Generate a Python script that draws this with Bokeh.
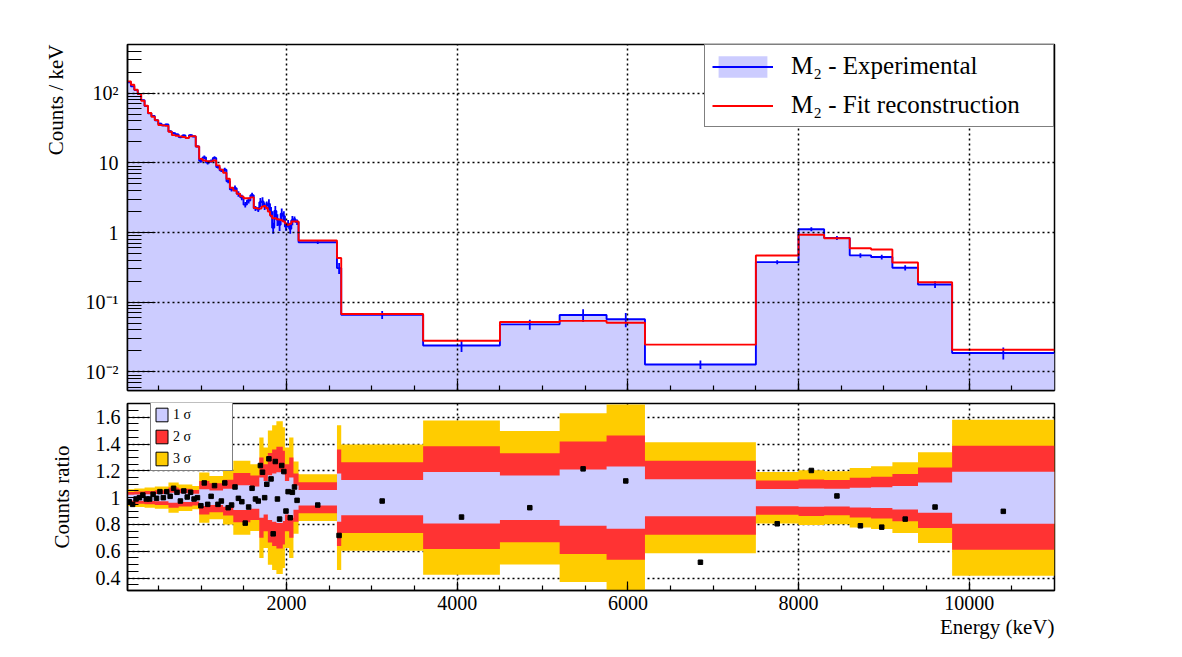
import numpy as np
from bokeh.plotting import figure
from bokeh.layouts import column
from bokeh.models import Range1d, FixedTicker, CustomJSTickFormatter, Legend, LegendItem, Title
from bokeh.embed import file_html
from bokeh.resources import INLINE

# ---------------- data ----------------
bin_edges = [135, 175, 215, 255, 295, 335, 375, 415, 455, 495, 535, 575, 615, 655, 695,
             735, 775, 815, 855, 895, 935, 975, 1015, 1055, 1095, 1135, 1175, 1215, 1255,
             1295, 1335, 1375, 1415, 1455, 1495, 1535, 1575, 1615, 1655,
             1680, 1705, 1730, 1755, 1780, 1805, 1830, 1855, 1880, 1905, 1930, 1955, 1980,
             2005, 2030, 2055, 2080, 2105, 2140,
             2590, 2640, 3600, 4500, 5200, 5750, 6200, 7500, 8000, 8300, 8600, 8850,
             9100, 9400, 9800, 11000]

fit_counts = [148, 132, 112, 97, 78, 66, 52, 46, 41, 35,
              34.5, 34, 28, 25, 24.5, 24, 23.5, 22.7, 24, 24.2,
              17.2, 11.4, 10.8, 10.6, 10.5, 10.8, 9.2, 8.0, 7.2, 5.9,
              4.4, 4.0, 3.6, 3.3, 3.1, 3.1, 3.2, 2.25,
              2.2, 2.2, 2.35, 2.4, 2.25, 2.0, 1.75, 1.6, 1.6, 1.55,
              1.54, 1.5, 1.44, 1.35, 1.29, 1.33, 1.44, 1.44, 1.44,
              0.767, 0.43, 0.0678, 0.028, 0.052, 0.054, 0.0506, 0.0246,
              0.467, 0.927, 0.828, 0.595, 0.57, 0.371, 0.193, 0.0208]

counts_ratio = [0.97, 0.95, 0.99, 1.0, 1.02, 0.99, 0.99, 1.025, 0.995, 1.045,
                1.0, 1.045, 1.01, 1.07, 1.04, 0.975, 1.05, 1.005, 1.04, 0.99,
                1.0, 0.94, 1.11, 0.95, 1.01, 1.09, 0.95, 0.975, 1.11, 0.925,
                0.945, 1.08, 0.995, 0.97, 0.81, 0.93, 1.07, 0.99,
                0.975, 1.24, 1.19, 1.0, 1.1, 1.29, 1.14, 0.73, 1.27, 0.99,
                0.84, 1.24, 1.195, 0.9, 1.045, 0.85, 1.04, 1.08, 0.98,
                0.945, 0.718, 0.975, 0.855, 0.925, 1.215, 1.125, 0.518,
                0.805, 1.203, 1.013, 0.79, 0.78, 0.84, 0.93, 0.898]

rel_sigma = [0.021, 0.021, 0.023, 0.023, 0.023, 0.025, 0.025, 0.025, 0.0275, 0.0275,
             0.0275, 0.0275, 0.0375, 0.0375, 0.0375, 0.033, 0.033, 0.033, 0.033, 0.029,
             0.029, 0.0625, 0.0625, 0.0625, 0.054, 0.054, 0.054, 0.054, 0.067, 0.067,
             0.067, 0.092, 0.092, 0.092, 0.092, 0.092, 0.083, 0.083,
             0.083, 0.15, 0.15, 0.125, 0.125, 0.167, 0.167, 0.18, 0.18, 0.19,
             0.19, 0.19, 0.175, 0.125, 0.125, 0.15, 0.15, 0.09, 0.09,
             0.058, 0.18, 0.132, 0.192, 0.166, 0.21, 0.232, 0.138,
             0.064, 0.068, 0.066, 0.074, 0.078, 0.088, 0.113, 0.194]

x_ticks = [2000, 4000, 6000, 8000, 10000]
y_ticks_top = [0.01, 0.1, 1, 10, 100]
y_ticks_bottom = [0.4, 0.6, 0.8, 1.0, 1.2, 1.4, 1.6]

legend_top = ["M\u2082 - Experimental", "M\u2082 - Fit reconstruction"]
legend_bottom = ["1 \u03c3", "2 \u03c3", "3 \u03c3"]

# ---------------- derived ----------------
edges = np.array(bin_edges, float)
centers = 0.5 * (edges[:-1] + edges[1:])
fit_a = np.array(fit_counts, float)
ratio_a = np.array(counts_ratio, float)
sig_a = np.array(rel_sigma, float)
data_a = fit_a * ratio_a


def step_xy(vals):
    xs = np.repeat(edges, 2)[1:-1]
    ys = np.repeat(np.asarray(vals, float), 2)
    return xs, ys


FONT = "Liberation Serif"
LAV = "#ccccff"
RED = "#ff3333"
GOLD = "#ffcc00"
W = 1182
X_RANGE = Range1d(135, 11000)

x_minor = [500 * k for k in range(1, 22)]
y_minor_top = [k * 10.0 ** n for n in range(-3, 3) for k in range(2, 10) if 0.0054 < k * 10.0 ** n < 500]
y_minor_bottom = [round(0.30 + 0.05 * i, 2) for i in range(0, 29)]


def style(p, xmaj, xmin, ymaj, ymin):
    p.outline_line_color = "black"
    p.outline_line_width = 1.5
    p.background_fill_color = "white"
    for ax in [p.xaxis[0], p.yaxis[0]]:
        ax.axis_line_color = "black"
        ax.axis_line_width = 1.5
        ax.major_tick_out = 0
        ax.minor_tick_out = 0
        ax.major_tick_line_color = "black"
        ax.minor_tick_line_color = "black"
        ax.major_tick_line_width = 1.2
        ax.minor_tick_line_width = 1.2
        ax.major_label_text_font = FONT
        ax.major_label_text_font_size = "20px"
        ax.major_label_text_color = "black"
    p.xaxis[0].major_tick_in = xmaj
    p.xaxis[0].minor_tick_in = xmin
    p.yaxis[0].major_tick_in = ymaj
    p.yaxis[0].minor_tick_in = ymin
    for g in [p.xgrid[0], p.ygrid[0]]:
        g.grid_line_color = "black"
        g.grid_line_dash = "2 3"
        g.grid_line_width = 1.5


def axis_title(text, align, standoff):
    return Title(text=text, align=align, text_font=FONT, text_font_size="21px",
                 text_font_style="normal", text_color="black", standoff=standoff)


# ---------------- upper panel ----------------
p1 = figure(width=W, height=396, x_range=X_RANGE, y_range=Range1d(0.0054, 500),
            y_axis_type="log", output_backend="svg", toolbar_location=None,
            min_border_left=127, min_border_right=128, min_border_top=44, min_border_bottom=6)

xs, ys = step_xy(data_a)
fill_r = p1.varea(x=xs, y1=np.full(len(xs), 1e-4), y2=ys, fill_color=LAV)
blue_r = p1.line(xs, ys, line_color="#0000ff", line_width=1.9)
p1.segment(x0=centers, y0=data_a * (1 - sig_a), x1=centers, y1=data_a * (1 + sig_a),
           line_color="#0000ff", line_width=1.8)
xr, yr = step_xy(fit_a)
red_r = p1.line(xr, yr, line_color="#ff0000", line_width=1.9)

style(p1, 10, 5, 28, 14)
p1.xaxis[0].ticker = FixedTicker(ticks=x_ticks, minor_ticks=x_minor)
p1.xaxis[0].formatter = CustomJSTickFormatter(code="return '';")
p1.xaxis[0].major_label_text_font_size = "0px"
p1.xaxis[0].major_label_standoff = 0
p1.yaxis[0].ticker = FixedTicker(ticks=y_ticks_top, minor_ticks=y_minor_top)
p1.yaxis[0].formatter = CustomJSTickFormatter(code="""
const e = Math.round(Math.log10(tick));
if (e == 0) return '1';
if (e == 1) return '10';
const sup = {'-': '\u207b', '0': '\u2070', '1': '\u00b9', '2': '\u00b2', '3': '\u00b3'};
return '10' + String(e).split('').map(c => sup[c]).join('');
""")
p1.yaxis[0].major_label_standoff = 9
p1.add_layout(axis_title("Counts / keV", "right", 29), "left")
p1.xgrid[0].ticker = FixedTicker(ticks=x_ticks)
p1.ygrid[0].ticker = FixedTicker(ticks=y_ticks_top)
p1.xgrid[0].level = "guide"
p1.ygrid[0].level = "guide"

leg1 = Legend(items=[LegendItem(label=legend_top[0], renderers=[fill_r, blue_r]),
                     LegendItem(label=legend_top[1], renderers=[red_r])],
              location="top_right", margin=0, padding=7, spacing=11,
              glyph_width=61, glyph_height=27, label_standoff=18, label_width=255,
              label_text_font=FONT, label_text_font_size="25px", label_text_color="black",
              border_line_color="black", border_line_width=1.5,
              background_fill_color="white", background_fill_alpha=1.0)
p1.add_layout(leg1)

# ---------------- lower panel ----------------
p2 = figure(width=W, height=261, x_range=X_RANGE, y_range=Range1d(0.307, 1.703),
            output_backend="svg", toolbar_location=None,
            min_border_left=127, min_border_right=128, min_border_top=7, min_border_bottom=67)

for k, col in [(3, GOLD), (2, RED), (1, LAV)]:
    bx, blo = step_xy(1 - k * sig_a)
    _, bhi = step_xy(1 + k * sig_a)
    p2.varea(x=bx, y1=blo, y2=bhi, fill_color=col)

# legend-only swatches, placed outside the visible x range
legend_dummies = []
for col in [LAV, RED, GOLD]:
    legend_dummies.append(p2.quad(left=[-3000], right=[-2000], top=[1.1], bottom=[0.9],
                                  fill_color=col, line_color="black", line_width=1))

p2.scatter(centers, ratio_a, marker="square", size=4.5, fill_color="black", line_color="black")

style(p2, 9, 5, 22, 11)
p2.xaxis[0].ticker = FixedTicker(ticks=x_ticks, minor_ticks=x_minor)
p2.xaxis[0].formatter = CustomJSTickFormatter(code="return tick.toFixed(0);")
p2.xaxis[0].major_label_standoff = 5
p2.add_layout(axis_title("Energy (keV)", "right", 1), "below")
p2.yaxis[0].ticker = FixedTicker(ticks=y_ticks_bottom, minor_ticks=y_minor_bottom)
p2.yaxis[0].formatter = CustomJSTickFormatter(
    code="return (Math.abs(tick - 1) < 1e-9) ? '1' : tick.toFixed(1);")
p2.yaxis[0].major_label_standoff = 7
p2.add_layout(axis_title("Counts ratio", "center", 37), "left")
p2.xgrid[0].ticker = FixedTicker(ticks=x_ticks)
p2.ygrid[0].ticker = FixedTicker(ticks=y_ticks_bottom)

leg2 = Legend(items=[LegendItem(label=legend_bottom[i], renderers=[legend_dummies[i]]) for i in range(3)],
              location=(23, 119), margin=0, padding=3, spacing=5,
              glyph_width=15, glyph_height=17, label_standoff=4, label_width=56,
              label_text_font=FONT, label_text_font_size="14px", label_height=17,
              label_text_color="black",
              border_line_color="black", border_line_width=1.2,
              background_fill_color="white", background_fill_alpha=1.0)
p2.add_layout(leg2)

layout = column(p1, p2, spacing=0)
open("out.html", "w").write(file_html(layout, INLINE))
